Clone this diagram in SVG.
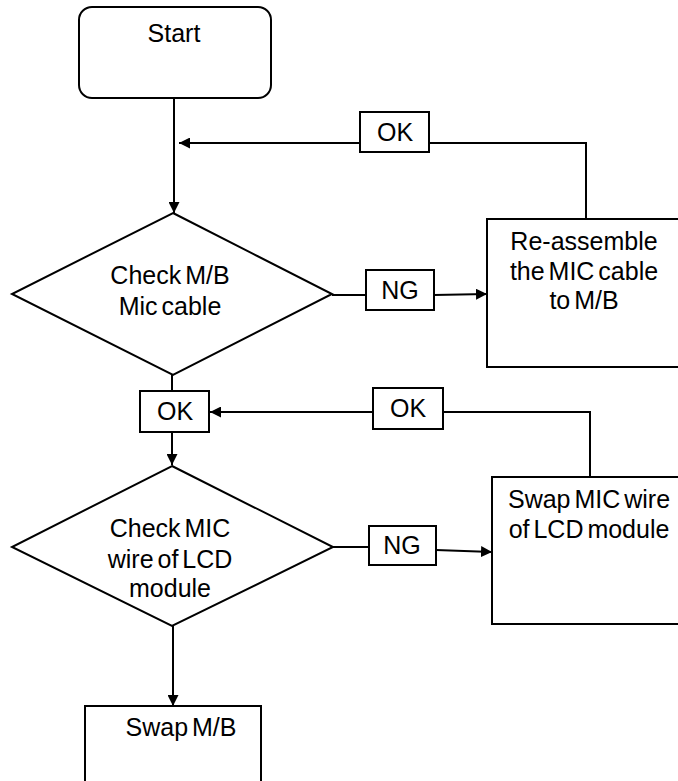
<svg xmlns="http://www.w3.org/2000/svg" width="678" height="781" viewBox="0 0 678 781">
<defs>
<marker id="arr" markerUnits="userSpaceOnUse" markerWidth="11" markerHeight="11" viewBox="0 0 11 11" refX="11" refY="5.5" orient="auto">
<path d="M0,0 L11,5.5 L0,11 Z" fill="#000"/>
</marker>
</defs>
<style>
.s{fill:#fff;stroke:#000;stroke-width:2}
.c{fill:none;stroke:#000;stroke-width:2}
.t{font-family:"Liberation Sans",Arial,sans-serif;font-size:25px;word-spacing:-3px;fill:#000;text-anchor:middle}
</style>
<rect width="678" height="781" fill="#fff"/>
<g id="connectors">
<path class="c" d="M174,98 L174,213" marker-end="url(#arr)"/>
<path class="c" d="M586,219 L586,143 L429,143"/>
<path class="c" d="M360,143 L179,143" marker-end="url(#arr)"/>
<path class="c" d="M332,295 L366,295"/>
<path class="c" d="M434,295 L487,294" marker-end="url(#arr)"/>
<path class="c" d="M172,375 L172,391"/>
<path class="c" d="M172,432 L172,465" marker-end="url(#arr)"/>
<path class="c" d="M590,477 L590,412 L443,412"/>
<path class="c" d="M373,412 L210,412" marker-end="url(#arr)"/>
<path class="c" d="M333,547 L369,547"/>
<path class="c" d="M436,550 L492,552" marker-end="url(#arr)"/>
<path class="c" d="M173,626 L173,706" marker-end="url(#arr)"/>
</g>
<g id="start">
<rect class="s" x="79" y="7" width="192" height="91" rx="13" ry="13"/>
<text class="t" x="174" y="42">Start</text>
</g>
<g id="ok1">
<rect class="s" x="360" y="112" width="69" height="40"/>
<text class="t" x="395" y="141">OK</text>
</g>
<g id="check1">
<path class="s" d="M173,213 L332,294 L173,375 L12,294 Z"/>
<text class="t" x="170" y="284">Check M/B</text>
<text class="t" x="170" y="315">Mic cable</text>
</g>
<g id="ng1">
<rect class="s" x="366" y="270" width="68" height="40"/>
<text class="t" x="400" y="299">NG</text>
</g>
<g id="reassemble">
<rect class="s" x="487" y="219" width="200" height="148"/>
<text class="t" x="584" y="250">Re-assemble</text>
<text class="t" x="584" y="280">the MIC cable</text>
<text class="t" x="584" y="309">to M/B</text>
</g>
<g id="ok2">
<rect class="s" x="140" y="391" width="69" height="41"/>
<text class="t" x="175" y="420">OK</text>
</g>
<g id="ok3">
<rect class="s" x="373" y="388" width="70" height="41"/>
<text class="t" x="408" y="417">OK</text>
</g>
<g id="check2">
<path class="s" d="M172,466 L333,547 L172,626 L12,547 Z"/>
<text class="t" x="170" y="537">Check MIC</text>
<text class="t" x="170" y="568">wire of LCD</text>
<text class="t" x="170" y="597">module</text>
</g>
<g id="ng2">
<rect class="s" x="369" y="526" width="67" height="39"/>
<text class="t" x="402" y="554">NG</text>
</g>
<g id="swapmic">
<rect class="s" x="492" y="477" width="196" height="147"/>
<text class="t" x="589" y="508">Swap MIC wire</text>
<text class="t" x="589" y="538">of LCD module</text>
</g>
<g id="swapmb">
<rect class="s" x="85" y="706" width="176" height="90"/>
<text class="t" x="181" y="736">Swap M/B</text>
</g>
</svg>
